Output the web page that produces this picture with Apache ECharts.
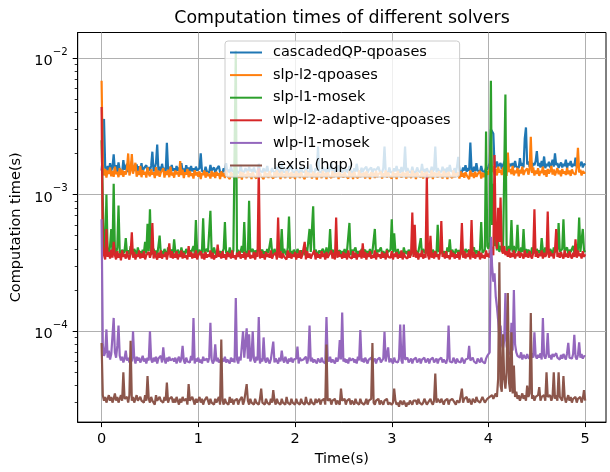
<!DOCTYPE html>
<html>
<head>
<meta charset="utf-8">
<script src="https://cdn.jsdelivr.net/npm/echarts@6.0.0/dist/echarts.min.js"></script>
<style>
  html, body { margin: 0; padding: 0; background: #fff; }
  #main { width: 610px; height: 472px; }
</style>
</head>
<body>
<div id="main"></div>
<script>
// sample times (s)
var times = [
0,0.0125,0.025,0.0375,0.05,0.0625,0.075,0.0875,0.1,0.1125,0.125,0.1375,0.15,0.1625,0.175,0.1875,0.2,0.2125,0.225,0.2375,
0.25,0.2625,0.275,0.2875,0.3,0.3125,0.325,0.3375,0.35,0.3625,0.375,0.3875,0.4,0.4125,0.425,0.4375,0.45,0.4625,0.475,0.4875,
0.5,0.5125,0.525,0.5375,0.55,0.5625,0.575,0.5875,0.6,0.6125,0.625,0.6375,0.65,0.6625,0.675,0.6875,0.7,0.7125,0.725,0.7375,
0.75,0.7625,0.775,0.7875,0.8,0.8125,0.825,0.8375,0.85,0.8625,0.875,0.8875,0.9,0.9125,0.925,0.9375,0.95,0.9625,0.975,0.9875,
1,1.0125,1.025,1.0375,1.05,1.0625,1.075,1.0875,1.1,1.1125,1.125,1.1375,1.15,1.1625,1.175,1.1875,1.2,1.2125,1.225,1.2375,
1.25,1.2625,1.275,1.2875,1.3,1.3125,1.325,1.3375,1.35,1.3625,1.375,1.3875,1.4,1.4125,1.425,1.4375,1.45,1.4625,1.475,1.4875,
1.5,1.5125,1.525,1.5375,1.55,1.5625,1.575,1.5875,1.6,1.6125,1.625,1.6375,1.65,1.6625,1.675,1.6875,1.7,1.7125,1.725,1.7375,
1.75,1.7625,1.775,1.7875,1.8,1.8125,1.825,1.8375,1.85,1.8625,1.875,1.8875,1.9,1.9125,1.925,1.9375,1.95,1.9625,1.975,1.9875,
2,2.0125,2.025,2.0375,2.05,2.0625,2.075,2.0875,2.1,2.1125,2.125,2.1375,2.15,2.1625,2.175,2.1875,2.2,2.2125,2.225,2.2375,
2.25,2.2625,2.275,2.2875,2.3,2.3125,2.325,2.3375,2.35,2.3625,2.375,2.3875,2.4,2.4125,2.425,2.4375,2.45,2.4625,2.475,2.4875,
2.5,2.5125,2.525,2.5375,2.55,2.5625,2.575,2.5875,2.6,2.6125,2.625,2.6375,2.65,2.6625,2.675,2.6875,2.7,2.7125,2.725,2.7375,
2.75,2.7625,2.775,2.7875,2.8,2.8125,2.825,2.8375,2.85,2.8625,2.875,2.8875,2.9,2.9125,2.925,2.9375,2.95,2.9625,2.975,2.9875,
3,3.0125,3.025,3.0375,3.05,3.0625,3.075,3.0875,3.1,3.1125,3.125,3.1375,3.15,3.1625,3.175,3.1875,3.2,3.2125,3.225,3.2375,
3.25,3.2625,3.275,3.2875,3.3,3.3125,3.325,3.3375,3.35,3.3625,3.375,3.3875,3.4,3.4125,3.425,3.4375,3.45,3.4625,3.475,3.4875,
3.5,3.5125,3.525,3.5375,3.55,3.5625,3.575,3.5875,3.6,3.6125,3.625,3.6375,3.65,3.6625,3.675,3.6875,3.7,3.7125,3.725,3.7375,
3.75,3.7625,3.775,3.7875,3.8,3.8125,3.825,3.8375,3.85,3.8625,3.875,3.8875,3.9,3.9125,3.925,3.9375,3.95,3.9625,3.975,3.9875,
4,4.0125,4.025,4.0375,4.05,4.0625,4.075,4.0875,4.1,4.1125,4.125,4.1375,4.15,4.1625,4.175,4.1875,4.2,4.2125,4.225,4.2375,
4.25,4.2625,4.275,4.2875,4.3,4.3125,4.325,4.3375,4.35,4.3625,4.375,4.3875,4.4,4.4125,4.425,4.4375,4.45,4.4625,4.475,4.4875,
4.5,4.5125,4.525,4.5375,4.55,4.5625,4.575,4.5875,4.6,4.6125,4.625,4.6375,4.65,4.6625,4.675,4.6875,4.7,4.7125,4.725,4.7375,
4.75,4.7625,4.775,4.7875,4.8,4.8125,4.825,4.8375,4.85,4.8625,4.875,4.8875,4.9,4.9125,4.925,4.9375,4.95,4.9625,4.975,4.9875,
5];

// computation times in microseconds, one row per 0.25 s
var cascadedQP = [
1500,1900,3580,1560,1480,1620,1450,1700,1500,1580,1970,1490,1640,1460,1720,1510,1560,1450,1790,1520,
1480,1680,1460,1600,1520,1750,1470,1580,1500,1660,1450,1610,1490,1700,1460,1560,1520,1640,1470,1590,
1500,1620,2060,1480,1560,1700,2320,1490,1600,1460,1680,1510,1570,1450,2390,1520,1600,1470,1650,1490,
1560,1450,1620,1500,1580,1470,1700,1490,1550,1460,1640,1500,1580,1450,1620,1480,1560,1440,1600,1500,
1470,1560,2000,1490,1540,1450,1600,1480,1520,1440,1650,1500,1470,1580,1450,1530,1480,1620,1460,1510,
1450,1560,1480,1700,1460,1520,1440,1600,1490,1530,1450,1580,1470,1510,1440,1650,1480,1520,1460,1560,
1500,1450,1600,1480,1540,1440,1580,1470,1520,1450,1680,1490,1530,1460,1560,1440,1500,1620,1470,1510,
1460,1560,1480,1520,1440,1600,1490,1530,1450,1700,1470,1510,1460,1580,1440,1520,1480,1640,1460,1500,
1450,1560,1490,1520,1440,1600,1470,1510,1460,1580,1480,1530,1450,1660,1470,1520,1440,1560,1490,2250,
1470,1520,1450,1600,1480,1540,1440,1580,1460,1510,1700,1470,1530,1450,1560,1480,1640,1460,1520,1450,
1500,1580,1460,1530,1440,1620,1480,1510,1450,1560,1470,1680,1490,1520,1440,1570,1460,1530,1480,1600,
1450,1520,1470,1580,1440,1540,1490,1510,1460,1600,1480,1530,1450,1560,2250,1470,1520,1440,1580,1460,
1510,1450,1560,1480,1620,1460,1520,1440,1590,1470,1530,2250,1460,1560,1480,1510,1440,1600,1470,1520,
1460,1580,1490,1520,1450,1680,1470,1540,1440,1560,1480,1510,1460,1600,1470,1530,2250,1450,1560,1490,
1520,1460,1600,1480,1540,1450,1580,1470,1650,1490,1520,1460,1560,1440,1610,1890,1480,1530,1460,1580,
1500,1640,1470,1560,1490,2400,1520,1460,1600,1480,1700,1500,1550,1470,1620,1490,1540,1460,1580,1520,
1600,1700,3000,2950,2800,1650,1580,1750,1600,1560,1700,1540,1650,1600,1800,1560,1720,1580,1680,1620,
1700,1580,1760,1600,1650,1560,1850,1620,1700,1580,2570,3100,1660,1750,1600,1820,1580,1700,1640,1760,
2080,1620,1700,1580,1760,1600,1900,1560,1680,1620,1740,1580,1660,1800,1600,2000,1640,1700,1570,1650,
1720,1580,1680,1620,1800,1560,1700,1640,1760,1590,1680,1620,1860,1580,1700,1600,1660,1740,1580,1680,
1640];

var slpL2 = [
6800,1620,1380,1540,1330,1500,1420,1580,1360,1490,1350,1600,1410,1470,1340,1560,1390,1520,1350,1480,
1400,1550,2000,1380,1500,1980,1420,1560,1710,1350,1490,1390,1620,1340,1510,1400,1470,1330,1580,1420,
1360,1530,1400,1460,1320,1590,1380,1500,1350,1450,1410,1560,1330,1480,1390,1520,1340,1600,1380,1450,
1330,1500,1410,1470,1350,1760,1390,1520,1320,1460,1400,1540,1340,1490,1370,1430,1310,1510,1380,1460,
1350,1480,1300,1440,1390,1500,1330,1460,1370,1420,1310,1490,1360,1450,1320,1470,1380,1430,1300,1480,
1360,1440,1320,1500,1370,1410,1300,1460,1350,1430,1310,1480,1380,1420,1330,1470,1290,1450,1360,1410,
1320,1490,1350,1430,1300,1460,1380,1420,1310,1500,1340,1440,1370,1410,1300,1470,1350,1430,1320,1480,
1380,1420,1310,1460,1340,1500,1360,1430,1300,1470,1350,1410,1320,1490,1370,1440,1310,1460,1340,1420,
1300,1480,1360,1430,1320,1460,1380,1410,1300,1500,1340,1450,1370,1420,1310,1470,1350,1430,1290,1460,
1370,1420,1320,1490,1350,1440,1300,1460,1380,1410,1320,1480,1340,1430,1360,1450,1300,1470,1350,1420,
1330,1460,1380,1420,1310,1490,1350,1440,1300,1470,1370,1410,1320,1500,1340,1430,1360,1450,1310,1480,
1350,1420,1300,1460,1380,1440,1320,1490,1340,1410,1370,1470,1310,1430,1360,1500,1330,1450,1380,1420,
1310,1470,1350,1430,1300,1490,1370,1420,1330,1460,1380,1440,1310,1480,1350,1410,1320,1500,1360,1430,
1300,1460,1380,1420,1340,1490,1310,1440,1370,1470,1320,1410,1350,1500,1300,1450,1380,1430,1330,1480,
1360,1420,1310,1490,1350,1440,1300,1470,1380,1410,1320,1500,1340,1430,1370,1460,1310,1480,1350,1440,
1330,1460,1380,1420,1300,1500,1360,1440,1320,1470,1350,1410,1380,1490,1310,1450,1340,1430,1370,1480,
1400,1560,2300,1460,1620,1400,1550,1380,1600,1450,1520,1390,1580,1430,1500,1370,2030,1460,1540,1410,
1620,1380,1500,1440,1570,1360,1520,1430,1600,1390,1480,1450,1550,1400,1510,2650,1440,1580,1380,1500,
1420,1560,1370,1490,1440,1600,1390,1510,1350,1540,1430,1480,1620,1400,1530,1380,1470,1560,1410,1500,
1360,1540,1430,1480,1390,1570,1410,1500,1370,1530,1440,1460,1400,1580,2200,1450,1520,1380,1490,1430,
1460];

var slpL1 = [
2500,900,400,370,1000,380,365,420,560,375,1200,390,370,410,830,380,360,395,370,385,
480,370,390,365,420,375,360,400,380,365,410,370,385,360,395,375,450,370,610,385,
780,380,365,400,375,390,360,420,500,370,385,365,400,375,360,410,380,370,395,365,
470,380,365,395,375,360,410,370,385,365,400,380,360,390,375,365,420,370,650,385,
370,395,360,380,670,375,365,400,380,370,760,385,365,410,375,360,395,370,385,365,
380,400,630,370,385,365,410,375,360,390,380,11300,370,395,365,380,420,375,630,370,
385,365,900,380,370,400,360,390,375,365,410,380,370,395,360,385,370,400,375,365,
480,380,365,400,375,360,390,370,385,560,365,400,375,360,410,690,370,385,365,395,
375,360,400,380,365,390,370,385,360,410,375,365,560,380,370,820,365,395,375,360,
390,375,365,400,380,360,410,370,385,560,365,395,375,360,400,380,370,390,365,385,
370,400,365,385,375,620,360,395,380,370,410,365,385,375,360,400,380,370,395,365,
385,370,400,365,380,375,560,360,395,380,370,410,365,385,375,360,400,380,370,395,
660,375,520,385,370,400,365,380,375,360,410,370,385,365,395,380,360,400,375,370,
390,365,380,375,480,360,400,385,370,365,410,380,375,360,395,370,385,365,600,380,
370,400,365,385,375,360,410,380,470,365,395,375,360,400,380,370,390,365,385,375,
360,400,380,370,395,365,385,375,410,360,390,380,365,400,630,375,370,395,2900,420,
400,450,6800,600,1200,420,500,390,450,380,420,400,380,370,5400,400,380,420,390,650,
380,420,375,400,600,385,370,410,380,560,375,400,370,395,380,365,410,375,390,370,
400,375,390,370,480,385,365,410,375,395,370,400,385,365,410,380,370,395,620,380,
370,400,660,385,375,410,365,395,380,370,420,375,390,365,400,680,380,370,560,390,
380];

var wlpL2 = [
4370,420,360,335,560,350,380,340,395,345,450,360,335,385,345,370,330,390,350,365,
340,385,350,335,375,530,345,380,335,365,350,390,340,370,345,385,335,360,350,380,
345,370,620,340,385,350,335,375,345,390,340,365,350,380,335,370,440,345,385,340,
370,345,385,335,365,350,390,340,375,345,360,335,420,350,380,340,370,345,390,335,
360,350,385,340,370,335,380,345,365,350,390,340,375,335,360,345,430,350,370,340,
385,345,365,335,380,350,370,340,390,345,360,335,375,350,385,340,365,345,380,335,
370,350,390,340,360,345,380,335,375,350,1560,340,385,345,365,335,380,350,370,345,
390,340,360,350,375,335,680,345,385,340,370,350,360,335,390,345,375,340,365,350,
380,335,370,345,390,340,360,350,450,335,385,345,370,340,360,350,390,335,375,345,
365,340,385,350,370,335,380,345,360,350,390,340,375,335,680,345,385,350,365,340,
380,345,370,335,390,350,360,340,385,345,375,335,365,350,390,340,440,345,380,335,
370,350,385,340,360,345,390,335,375,350,365,340,380,345,370,335,390,350,360,345,
385,335,370,350,380,340,365,345,390,335,375,350,360,340,385,345,370,740,350,600,
345,380,335,370,350,390,340,365,345,1400,360,335,500,345,375,340,385,350,365,335,
380,640,350,370,340,385,345,360,335,390,350,375,340,365,345,380,335,370,620,345,
385,340,370,350,390,335,650,345,380,340,365,350,385,335,375,345,360,340,390,350,
370,345,420,380,360,1950,500,400,800,450,950,390,370,420,360,385,350,400,345,375,
350,390,340,370,355,385,345,375,360,340,390,350,370,345,385,355,340,375,780,350,
385,345,370,355,390,340,375,350,365,750,345,385,355,370,340,390,560,350,375,345,
380,355,340,390,350,370,345,385,355,340,375,350,470,345,390,355,370,340,385,350,
365];

var wlpL1 = [
660,80,66,70,103,64,72,62,68,66,125,70,64,78,110,66,61,65,59,63,
72,61,64,59,66,60,100,63,58,65,61,64,59,62,66,60,63,58,64,61,
100,62,59,64,60,65,58,63,61,66,59,76,62,58,64,60,65,61,59,63,
60,64,58,62,65,59,63,78,61,58,64,60,62,59,66,61,125,58,63,60,
64,59,62,58,65,61,60,63,59,64,115,62,58,61,80,60,64,59,62,58,
63,60,65,59,62,61,58,64,60,63,59,175,62,58,65,61,59,100,64,62,
105,63,95,60,64,100,62,59,65,61,127,58,63,60,90,62,59,64,61,58,
62,60,84,59,63,61,58,64,60,72,62,59,65,61,58,63,60,64,59,62,
60,63,77,58,64,61,59,62,60,65,58,63,110,60,64,59,62,61,58,63,
61,59,64,60,62,58,127,63,60,65,59,62,61,58,64,60,63,86,62,137,
60,63,59,62,58,64,61,60,63,59,62,58,65,61,102,60,63,59,64,61,
58,62,60,64,59,61,63,58,62,60,64,59,61,63,99,60,62,76,59,63,
61,58,64,60,62,59,63,112,61,58,112,62,60,64,59,61,63,58,62,60,
64,59,61,63,58,62,60,64,59,61,63,58,62,60,64,59,61,63,58,62,
60,64,59,62,61,58,63,110,60,62,59,64,61,58,63,60,62,59,64,61,
58,62,60,63,78,61,59,64,60,62,58,63,61,59,64,60,62,58,63,66,
64,70,490,300,230,265,180,150,120,90,110,80,75,85,190,78,70,72,68,115,
72,200,80,70,66,68,64,70,62,67,65,63,68,64,66,62,69,64,98,66,
63,67,64,69,62,125,66,63,68,97,64,67,62,68,65,63,69,64,66,62,
67,63,68,65,62,69,82,64,66,63,68,94,65,62,67,83,64,68,63,66,
65];

var lexlsi = [
82,34,31,33,30,32,34,31,33,30,32,35,31,33,30,32,34,31,50,32,
31,33,30,34,85,31,33,30,32,34,31,30,33,31,32,30,34,31,47,32,
30,33,31,32,29,34,31,30,33,31,32,30,33,31,42,30,32,31,33,30,
32,30,33,31,29,32,30,33,31,30,32,29,41,31,30,33,31,29,32,30,
31,33,30,32,29,31,30,33,31,29,32,30,31,29,32,30,31,33,29,87,
31,29,32,30,31,29,33,30,32,29,31,30,32,29,31,30,33,29,31,30,
41,31,29,32,30,31,29,32,30,31,29,32,38,30,31,29,32,30,31,29,
32,30,37,31,29,32,30,31,29,32,30,31,29,33,30,31,29,32,30,31,
29,32,30,31,29,32,30,31,29,33,30,31,29,32,30,31,29,32,30,31,
32,29,31,30,32,29,80,31,30,32,29,31,30,32,29,31,30,29,38,31,
30,32,29,31,30,32,29,31,30,29,32,30,31,29,32,30,31,29,30,32,
29,31,30,32,82,30,29,31,30,32,29,31,30,29,31,30,32,29,30,31,
29,30,38,31,29,30,28,31,30,29,31,30,28,30,29,31,30,29,31,30,
31,29,32,30,31,29,30,32,31,29,30,31,32,30,29,31,49,30,32,31,
30,32,31,29,31,30,32,29,31,30,32,31,30,29,31,32,30,31,38,30,
32,31,33,30,32,31,29,32,31,30,33,31,32,30,31,33,32,30,31,32,
31,33,32,34,32,33,35,33,45,320,40,36,95,45,38,50,190,42,36,98,
35,56,33,36,32,34,31,33,35,32,34,31,40,33,35,136,32,34,31,33,
32,34,39,31,33,32,34,31,50,33,32,34,31,33,50,32,34,31,50,33,
32,31,47,33,30,32,34,31,33,30,32,31,33,30,32,31,33,30,32,37,
31];

var solverNames = ['cascadedQP-qpoases', 'slp-l2-qpoases', 'slp-l1-mosek',
                   'wlp-l2-adaptive-qpoases', 'wlp-l1-mosek', 'lexlsi (hqp)'];
var solverValues = [cascadedQP, slpL2, slpL1, wlpL2, wlpL1, lexlsi];

var xTicks = [0, 1, 2, 3, 4, 5];
var yTicks = [1e-4, 1e-3, 1e-2];
var yMinorTicks = [3e-5, 4e-5, 5e-5, 6e-5, 7e-5, 8e-5, 9e-5,
                   2e-4, 3e-4, 4e-4, 5e-4, 6e-4, 7e-4, 8e-4, 9e-4,
                   2e-3, 3e-3, 4e-3, 5e-3, 6e-3, 7e-3, 8e-3, 9e-3];

var colors = ['#1f77b4', '#ff7f0e', '#2ca02c', '#d62728', '#9467bd', '#8c564b'];
var font = 'DejaVu Sans';
var yMin = 2.16e-5, yMax = 0.01536;

function toPairs(vals) {
    return times.map(function (t, i) { return [t, vals[i] / 1e6]; });
}

var myChart = echarts.init(document.getElementById('main'));
option = {
    animation: false,
    color: colors,
    textStyle: { fontFamily: font },
    title: {
        text: 'Computation times of different solvers',
        left: 342,
        top: 10,
        padding: 0,
        textAlign: 'center',
        textVerticalAlign: 'top',
        textStyle: { fontSize: 17.4, fontWeight: 'normal', color: '#000', fontFamily: font }
    },
    legend: {
        orient: 'vertical',
        left: 225,
        top: 41,
        padding: [4, 9, 4, 5],
        itemGap: 7.6,
        itemWidth: 32,
        itemHeight: 2,
        icon: 'rect',
        backgroundColor: 'rgba(255,255,255,0.8)',
        borderColor: '#cccccc',
        borderWidth: 1,
        borderRadius: 3,
        textStyle: { fontSize: 14.5, color: '#000', fontFamily: font, padding: [0, 0, 0, 6] },
        data: solverNames
    },
    grid: {
        left: 77.7, top: 32.5, right: 4, bottom: 44,
        show: true, borderColor: '#000', borderWidth: 1,
        backgroundColor: 'rgba(0,0,0,0)'
    },
    xAxis: {
        type: 'value',
        min: -0.247,
        max: 5.215,
        name: 'Time(s)',
        nameLocation: 'middle',
        nameGap: 27,
        nameTextStyle: { fontSize: 14.5, color: '#000', fontFamily: font },
        axisLine: { show: true, onZero: false, lineStyle: { color: '#000', width: 1 } },
        axisTick: { show: true, customValues: xTicks, length: 5, lineStyle: { color: '#000', width: 1 } },
        axisLabel: { customValues: xTicks, fontSize: 14.5, color: '#000', margin: 10, fontFamily: font },
        splitLine: { show: true, lineStyle: { color: '#b0b0b0', width: 1 } }
    },
    yAxis: [
        {
            type: 'log',
            min: yMin,
            max: yMax,
            name: 'Computation time(s)',
            nameLocation: 'middle',
            nameGap: 51,
            nameTextStyle: { fontSize: 14.5, color: '#000', fontFamily: font },
            axisLine: { show: true, onZero: false, lineStyle: { color: '#000', width: 1 } },
            axisTick: { show: true, customValues: yTicks, length: 5, lineStyle: { color: '#000', width: 1 } },
            axisLabel: {
                customValues: yTicks,
                margin: 10,
                formatter: function (v) {
                    return '{b|10}{s|\u2212' + Math.round(-Math.log10(v)) + '}';
                },
                rich: {
                    b: { fontSize: 14.5, lineHeight: 22, color: '#000', fontFamily: font, verticalAlign: 'bottom' },
                    s: { fontSize: 10.2, lineHeight: 11, color: '#000', fontFamily: font, verticalAlign: 'top' }
                }
            },
            splitLine: { show: true, lineStyle: { color: '#b0b0b0', width: 1 } }
        },
        {
            type: 'log',
            min: yMin,
            max: yMax,
            position: 'left',
            axisLine: { show: false, onZero: false },
            axisLabel: { show: false },
            splitLine: { show: false },
            axisTick: { show: true, customValues: yMinorTicks, length: 3, lineStyle: { color: '#000', width: 0.8 } }
        }
    ],
    series: solverNames.map(function (name, k) {
        return {
            name: name,
            type: 'line',
            data: toPairs(solverValues[k]),
            symbol: 'none',
            showSymbol: false,
            silent: true,
            lineStyle: { width: 2.2, color: colors[k] },
            itemStyle: { color: colors[k] }
        };
    })
};
myChart.setOption(option);
</script>
</body>
</html>
